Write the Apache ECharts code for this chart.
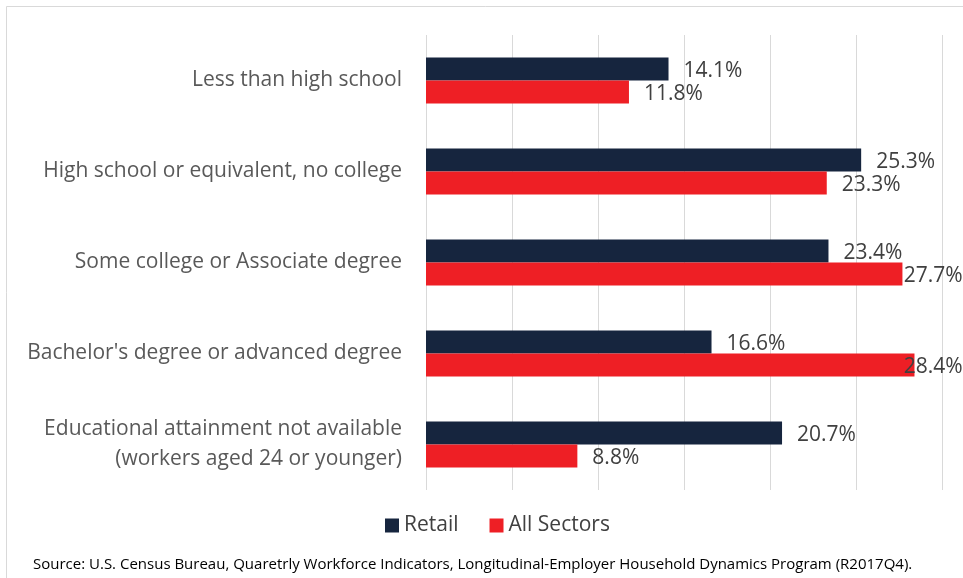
<!DOCTYPE html>
<html>
<head>
<meta charset="utf-8">
<script src="https://cdn.jsdelivr.net/npm/echarts@6/dist/echarts.min.js"></script>
<style>
  html, body { margin: 0; padding: 0; background: #fff; }
  #chart { width: 963px; height: 578px; }
</style>
</head>
<body>
<div id="chart"></div>
<script>
// Educational attainment of workers: Retail vs All Sectors (percent)
const categories = [
  'Less than high school',
  'High school or equivalent, no college',
  'Some college or Associate degree',
  "Bachelor's degree or advanced degree",
  'Educational attainment not available\n(workers aged 24 or younger)'
];
const retailValues = [14.1, 25.3, 23.4, 16.6, 20.7];
const allSectorsValues = [11.8, 23.3, 27.7, 28.4, 8.8];
const seriesNames = ['Retail', 'All Sectors'];
const sourceNote = 'Source: U.S. Census Bureau, Quaretrly Workforce Indicators, Longitudinal-Employer Household Dynamics Program (R2017Q4).';

const AXIS_MAX = 30;
const FONT = '"Open Sans", "Noto Sans", sans-serif';
const PX_PER_UNIT = 516 / AXIS_MAX;   // plot width / axis span
const FIT_LIMIT = 26.9;               // beyond this a right-hand label would leave the canvas

// Labels that would run past the plot edge are pulled back so they still fit
function toData(values) {
  return values.map(v => {
    if (v > FIT_LIMIT) {
      return { value: v, label: { offset: [-(v - FIT_LIMIT) * PX_PER_UNIT, 2] } };
    }
    return v;
  });
}

const chart = echarts.init(document.getElementById('chart'), null, { renderer: 'canvas' });

const labelStyle = {
  show: true,
  position: 'right',
  distance: 15,
  offset: [0, 2],
  fontFamily: FONT,
  fontSize: 21,
  color: '#404040',
  formatter: p => p.value.toFixed(1) + '%'
};

chart.setOption({
  animation: false,
  backgroundColor: '#ffffff',
  graphic: [
    {
      type: 'rect',
      shape: { x: 6.5, y: 6.5, width: 970, height: 590 },
      style: { fill: 'none', stroke: '#d9d9d9', lineWidth: 1 },
      silent: true
    },
    {
      type: 'text',
      left: 33,
      top: 557,
      style: {
        text: sourceNote,
        fontFamily: FONT,
        fontSize: 15,
        fill: '#000000'
      }
    }
  ],
  grid: { left: 426, right: 21, top: 35, bottom: 88, containLabel: false },
  legend: {
    data: seriesNames,
    bottom: 37,
    left: 380,
    itemWidth: 14,
    itemHeight: 14,
    itemGap: 31,
    icon: 'rect',
    textStyle: { fontFamily: FONT, fontSize: 21, color: '#404040' }
  },
  xAxis: {
    type: 'value',
    min: 0,
    max: AXIS_MAX,
    interval: 5,
    axisLabel: { show: false },
    axisLine: { show: false },
    axisTick: { show: false },
    splitLine: { show: true, lineStyle: { color: '#d9d9d9', width: 1 } }
  },
  yAxis: {
    type: 'category',
    data: categories,
    inverse: true,
    axisLine: { show: false },
    axisTick: { show: false },
    axisLabel: {
      margin: 24,
      fontFamily: FONT,
      fontSize: 21,
      lineHeight: 30,
      padding: [4, 0, 0, 0],
      color: '#595959',
      align: 'right'
    }
  },
  series: [
    {
      name: seriesNames[0],
      type: 'bar',
      data: toData(retailValues),
      barWidth: 23,
      barGap: '0%',
      itemStyle: { color: '#16253e' },
      label: labelStyle
    },
    {
      name: seriesNames[1],
      type: 'bar',
      data: toData(allSectorsValues),
      barWidth: 23,
      itemStyle: { color: '#ee1f25' },
      label: labelStyle
    }
  ]
});
</script>
</body>
</html>
